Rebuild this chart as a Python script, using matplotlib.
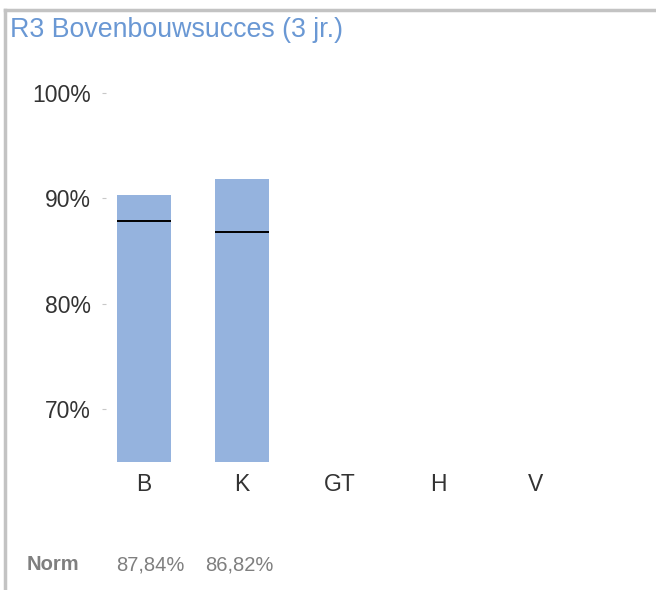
import matplotlib.pyplot as plt
from matplotlib.lines import Line2D

plt.rcParams['font.family'] = ['Liberation Sans', 'DejaVu Sans']

categories = ["B", "K", "GT", "H", "V"]
values = [90.3, 91.8]          # bar values in %
norms = [87.84, 86.82]         # norm line values in %
norm_labels = ["87,84%", "86,82%"]

bar_color = "#95b3de"
W, H = 656, 590

fig = plt.figure(figsize=(W / 100, H / 100), dpi=100)

# axes in pixel geometry
left, right, top, bottom = 106, 585, 93, 462
ax = fig.add_axes([left / W, 1 - bottom / H, (right - left) / W, (bottom - top) / H])

x = list(range(len(values)))
bw = 0.551
ax.bar(x, [v - 65 for v in values], bottom=65, width=bw, color=bar_color, zorder=2)
ax.hlines(norms, [i - bw / 2 for i in x], [i + bw / 2 for i in x], colors="black", lw=1.4, zorder=3)

ax.set_xlim((left - 144) / 98, (right - 144) / 98)
ax.set_ylim(65, 100)
ax.set_yticks([70, 80, 90, 100])
ax.set_yticklabels([f"{t}%" for t in [70, 80, 90, 100]], fontsize=16.5, color="#333333")
ax.set_xticks(range(len(categories)))
ax.set_xticklabels(categories, fontsize=16.5, color="#333333")
ax.tick_params(axis="y", length=3, width=0.8, color="#c8c8c8", pad=8)
ax.tick_params(axis="x", length=0, pad=8)
for s in ax.spines.values():
    s.set_visible(False)

# title
fig.text(10 / W, 1 - 30 / H, "R3 Bovenbouwsucces (3 jr.)", fontsize=19.3, color="#6a98d4",
         ha="left", va="center")

# norm row
fig.text(27 / W, 1 - 565 / H, "Norm", fontsize=14.5, color="#7f7f7f", fontweight="bold",
         ha="left", va="center")
for i, lab in enumerate(norm_labels):
    fig.text((116 + 89 * i) / W, 1 - 565 / H, lab, fontsize=14.5, color="#7f7f7f",
             ha="left", va="center")

# frame lines (top and left)
fig.add_artist(Line2D([5 / W, 1], [1 - 10 / H, 1 - 10 / H], transform=fig.transFigure,
                      color="#c3c3c3", lw=2.5))
fig.add_artist(Line2D([5 / W, 5 / W], [0, 1 - 10 / H], transform=fig.transFigure,
                      color="#c3c3c3", lw=2.5))

fig.savefig("out.png", dpi=100)
